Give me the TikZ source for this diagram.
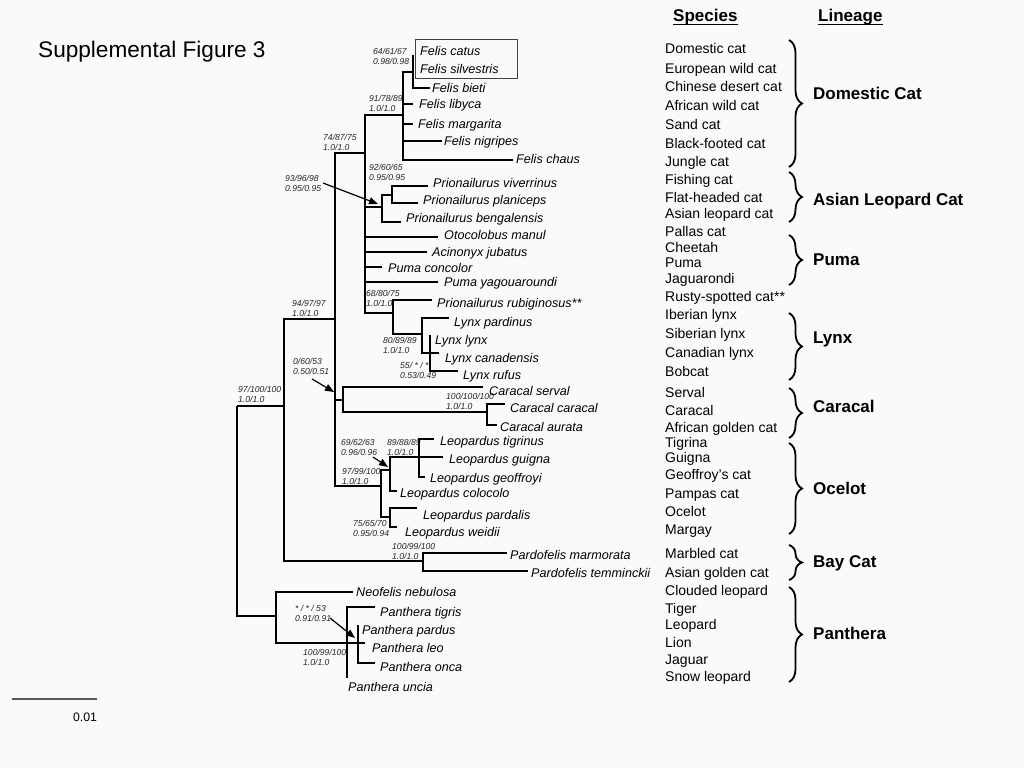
\documentclass[tikz,border=0pt]{standalone}
\usepackage{fontspec}
\setmainfont{Liberation Sans}
\usetikzlibrary{arrows.meta,decorations.pathreplacing}
\definecolor{bg}{RGB}{250,250,250}
\newcommand{\suplab}[5]{%
  \node[supp] (#1a) at (#2,#3) {#4};
  \node[supp] (#1b) at (#2,#3+10.5) {#5};}
\begin{document}
\begin{tikzpicture}[x=1pt,y=-1pt,
  br/.style={line width=2.2pt,line join=miter},
  tip/.style={anchor=base west,inner sep=0pt,yshift=-4.5pt,font=\fontsize{12.6}{14}\selectfont\itshape},
  supp/.style={anchor=base west,inner sep=0pt,yshift=-3.1pt,font=\fontsize{8.6}{10}\selectfont\itshape,text=black!85},
  sp/.style={anchor=base west,inner sep=0pt,yshift=-5pt,font=\fontsize{14}{16}\selectfont},
  lin/.style={anchor=base west,inner sep=0pt,yshift=-6.1pt,font=\fontsize{17}{19}\selectfont\bfseries},
  brc/.style={decorate,decoration={brace,amplitude=13pt},line width=1.8pt},
  ptr/.style={line width=1.2pt,-{Triangle[length=9pt,width=7pt]}}]
\fill[bg] (0,0) rectangle (1024,768);
\useasboundingbox (0,0) rectangle (1024,768);

% title
\node[anchor=base west,inner sep=0pt,font=\fontsize{22.6}{26}\selectfont] (title) at (38,57) {Supplemental Figure 3};

% headers
\node[anchor=base west,inner sep=0pt,font=\fontsize{17}{19}\selectfont\bfseries] (hsp) at (673,22) {Species};
\node[anchor=base west,inner sep=0pt,font=\fontsize{17}{19}\selectfont\bfseries] (hlin) at (818,22) {Lineage};
\draw[line width=1.4pt] ([yshift=-2.3pt]hsp.base west) -- ([yshift=-2.3pt]hsp.base east);
\draw[line width=1.4pt] ([yshift=-2.3pt]hlin.base west) -- ([yshift=-2.3pt]hlin.base east);

% species list
\foreach \t/\y [count=\i] in {Domestic cat/49,European wild cat/68,Chinese desert cat/86,African wild cat/105,Sand cat/124,Black-footed cat/143,Jungle cat/161,Fishing cat/179,Flat-headed cat/197,Asian leopard cat/213,Pallas cat/231,Cheetah/247,Puma/262,Jaguarondi/278,Rusty-spotted cat**/296,Iberian lynx/314,Siberian lynx/333,Canadian lynx/352,Bobcat/371,Serval/392,Caracal/410,African golden cat/427,Tigrina/442,Guigna/457,Geoffroy’s cat/474,Pampas cat/493,Ocelot/511,Margay/529,Marbled cat/553,Asian golden cat/572,Clouded leopard/590,Tiger/608,Leopard/624,Lion/642,Jaguar/659,Snow leopard/676}
  \node[sp] (s\i) at (665,\y) {\t};

% braces and lineages
\foreach \a/\b [count=\i] in {40/167,172/222,235/285,313/380,388/438,443/534,545/580,587/682}
  \draw[brc] (789,\a) coordinate (bt\i) -- (789,\b) coordinate (bb\i);
\node[lin] (l1) at (813,93) {Domestic Cat};
\node[lin] (l2) at (813,199) {Asian Leopard Cat};
\node[lin] (l3) at (813,259) {Puma};
\node[lin] (l4) at (813,337) {Lynx};
\node[lin] (l5) at (813,406) {Caracal};
\node[lin] (l6) at (813,488) {Ocelot};
\node[lin] (l7) at (813,561) {Bay Cat};
\node[lin] (l8) at (813,633) {Panthera};

% scale bar
\coordinate (sb1) at (12,699);
\coordinate (sb2) at (97,699);
\draw[line width=1.1pt,black!65] (sb1) -- (sb2);
\node[inner sep=0pt,font=\fontsize{12.3}{14}\selectfont] (sbl) at (85,717) {0.01};

% support labels
\suplab{q1}{373}{51}{64/61/67}{0.98/0.98}
\suplab{q2}{369}{98}{91/78/89}{1.0/1.0}
\suplab{q3}{323}{137}{74/87/75}{1.0/1.0}
\suplab{q4}{369}{167}{92/60/65}{0.95/0.95}
\suplab{q5}{285}{178}{93/96/98}{0.95/0.95}
\suplab{q6}{366}{293}{68/80/75}{1.0/1.0}
\suplab{q7}{292}{303}{94/97/97}{1.0/1.0}
\suplab{q8}{383}{340}{80/89/89}{1.0/1.0}
\suplab{q9}{400}{365}{55/ * / *}{0.53/0.49}
\suplab{q10}{293}{361}{0/60/53}{0.50/0.51}
\suplab{q11}{238}{389}{97/100/100}{1.0/1.0}
\suplab{q12}{446}{396}{100/100/100}{1.0/1.0}
\suplab{q13}{341}{442}{69/62/63}{0.96/0.96}
\suplab{q14}{387}{442}{89/88/89}{1.0/1.0}
\suplab{q15}{342}{471}{97/99/100}{1.0/1.0}
\suplab{q16}{353}{523}{75/65/70}{0.95/0.94}
\suplab{q17}{392}{546}{100/99/100}{1.0/1.0}
\suplab{q18}{295}{608}{* / * / 53}{0.91/0.91}
\suplab{q19}{303}{652}{100/99/100}{1.0/1.0}

% Felis box
\draw[line width=0.8pt,black!75] (415,39) rectangle (517,78);

% internal nodes
\coordinate (root) at (237,406);
\coordinate (n284) at (284,406);
\coordinate (n335) at (335,319);
\coordinate (nbig) at (365,153);
\coordinate (nfelis) at (403,115);
\coordinate (ncatsil) at (413,72);
\coordinate (nprio) at (382,207);
\coordinate (nvivpla) at (392,195);
\coordinate (nrublynx) at (393,313);
\coordinate (nlynx) at (422,334);
\coordinate (nlynx3) at (430,353);
\coordinate (ncarac) at (343,400);
\coordinate (ncarcar) at (487,412);
\coordinate (nleop) at (381,486);
\coordinate (nleopa) at (390,470);
\coordinate (ntiggeo) at (419,457);
\coordinate (npardwei) at (390,517);
\coordinate (npardo) at (423,561);
\coordinate (npanth) at (276,616);
\coordinate (npan2) at (347,643);
\coordinate (npan3) at (358,643);

% tip ends
\coordinate (catus) at (413,55);
\coordinate (bieti) at (430,88);
\coordinate (libyca) at (413,104);
\coordinate (margarita) at (413,124);
\coordinate (nigripes) at (442,141);
\coordinate (chaus) at (513,160);
\coordinate (viverrinus) at (428,186);
\coordinate (planiceps) at (418,203);
\coordinate (bengalensis) at (401,222);
\coordinate (manul) at (438,237);
\coordinate (jubatus) at (427,252);
\coordinate (concolor) at (382,267);
\coordinate (yagua) at (438,282);
\coordinate (rubig) at (432,300);
\coordinate (pardinus) at (449,318);
\coordinate (lynx) at (430,335);
\coordinate (canad) at (439,353);
\coordinate (rufus) at (458,371);
\coordinate (serval) at (483,387);
\coordinate (caracal) at (505,404);
\coordinate (aurata) at (497,425);
\coordinate (tigrinus) at (434,439);
\coordinate (guigna) at (443,457);
\coordinate (geoffroyi) at (425,477);
\coordinate (colocolo) at (397,491);
\coordinate (pardalis) at (417,508);
\coordinate (weidii) at (397,527);
\coordinate (marmorata) at (507,553);
\coordinate (temminckii) at (528,571);
\coordinate (nebulosa) at (353,592);
\coordinate (tigris) at (375,607);
\coordinate (pardus) at (358,625);
\coordinate (leo) at (365,643);
\coordinate (onca) at (375,663);
\coordinate (uncia) at (347,678);

% tip labels
\node[tip] (tcatus) at (420,51) {Felis catus};
\node[tip] (tsilv) at (420,69) {Felis silvestris};
\node[tip] (tbieti) at (432,88) {Felis bieti};
\node[tip] (tlibyca) at (419,104) {Felis libyca};
\node[tip] (tmarg) at (418,124) {Felis margarita};
\node[tip] (tnigr) at (444,141) {Felis nigripes};
\node[tip] (tchaus) at (516,159) {Felis chaus};
\node[tip] (tviv) at (433,183) {Prionailurus viverrinus};
\node[tip] (tplan) at (423,200) {Prionailurus planiceps};
\node[tip] (tbeng) at (406,218) {Prionailurus bengalensis};
\node[tip] (tmanul) at (444,235) {Otocolobus manul};
\node[tip] (tjub) at (432,252) {Acinonyx jubatus};
\node[tip] (tconc) at (388,268) {Puma concolor};
\node[tip] (tyag) at (444,282) {Puma yagouaroundi};
\node[tip] (trub) at (437,303) {Prionailurus rubiginosus**};
\node[tip] (tpard) at (454,322) {Lynx pardinus};
\node[tip] (tlynx) at (435,340) {Lynx lynx};
\node[tip] (tcan) at (445,358) {Lynx canadensis};
\node[tip] (truf) at (463,375) {Lynx rufus};
\node[tip] (tserv) at (489,391) {Caracal serval};
\node[tip] (tcar) at (510,408) {Caracal caracal};
\node[tip] (taur) at (500,427) {Caracal aurata};
\node[tip] (ttig) at (440,441) {Leopardus tigrinus};
\node[tip] (tgui) at (449,459) {Leopardus guigna};
\node[tip] (tgeo) at (430,478) {Leopardus geoffroyi};
\node[tip] (tcol) at (400,493) {Leopardus colocolo};
\node[tip] (tpdl) at (423,515) {Leopardus pardalis};
\node[tip] (twei) at (405,532) {Leopardus weidii};
\node[tip] (tmarm) at (510,555) {Pardofelis marmorata};
\node[tip] (ttem) at (531,573) {Pardofelis temminckii};
\node[tip] (tneb) at (356,592) {Neofelis nebulosa};
\node[tip] (tptig) at (380,612) {Panthera tigris};
\node[tip] (tppar) at (362,630) {Panthera pardus};
\node[tip] (tpleo) at (372,648) {Panthera leo};
\node[tip] (tponc) at (380,667) {Panthera onca};
\node[tip] (tpunc) at (348,687) {Panthera uncia};

% branches
\foreach \p/\c in {root/n284,root/npanth,n284/n335,n284/npardo,
  n335/nbig,n335/ncarac,n335/nleop,
  nbig/nfelis,nbig/nprio,nbig/manul,nbig/jubatus,nbig/concolor,nbig/yagua,nbig/nrublynx,
  nfelis/ncatsil,nfelis/libyca,nfelis/margarita,nfelis/nigripes,nfelis/chaus,
  ncatsil/catus,ncatsil/bieti,
  nprio/nvivpla,nprio/bengalensis,nvivpla/viverrinus,nvivpla/planiceps,
  nrublynx/rubig,nrublynx/nlynx,nlynx/pardinus,nlynx/nlynx3,
  nlynx3/lynx,nlynx3/canad,nlynx3/rufus,
  ncarac/serval,ncarac/ncarcar,ncarcar/caracal,ncarcar/aurata,
  nleop/nleopa,nleop/npardwei,nleopa/guigna,nleopa/ntiggeo,nleopa/colocolo,
  ntiggeo/tigrinus,ntiggeo/geoffroyi,npardwei/pardalis,npardwei/weidii,
  npardo/marmorata,npardo/temminckii,
  npanth/nebulosa,npanth/npan2,npan2/tigris,npan2/npan3,npan2/uncia,
  npan3/pardus,npan3/leo,npan3/onca}
  \draw[br] (\p) |- (\c);

% pointer arrows
\coordinate (a1s) at (323,183); \coordinate (a1e) at (378,204);
\coordinate (a2s) at (312,379); \coordinate (a2e) at (334,392);
\coordinate (a3s) at (373,457); \coordinate (a3e) at (388,467);
\coordinate (a4s) at (330,618); \coordinate (a4e) at (355,638);
\draw[ptr] (a1s) -- (a1e);
\draw[ptr] (a2s) -- (a2e);
\draw[ptr] (a3s) -- (a3e);
\draw[ptr] (a4s) -- (a4e);
\end{tikzpicture}
\end{document}
